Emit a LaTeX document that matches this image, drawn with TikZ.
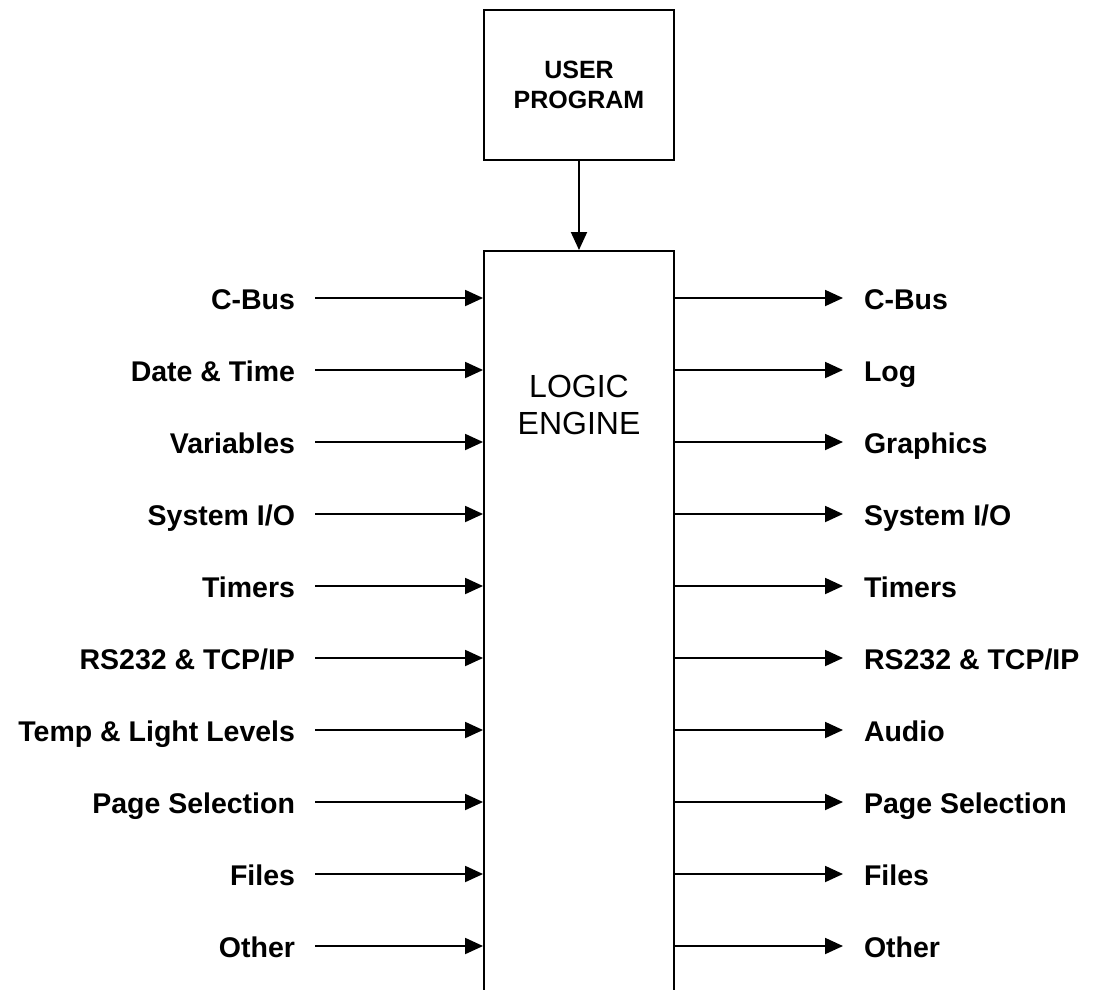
\documentclass[tikz,border=0pt]{standalone}
\usepackage{fontspec}
\setmainfont{Liberation Sans}
\usetikzlibrary{arrows.meta}
\begin{document}
\begin{tikzpicture}[x=1pt,y=-1pt,
  line width=1.9pt,
  flow/.style={-{Triangle[length=18pt,width=16pt]}},
  box/.style={draw,line width=1.9pt,inner sep=0pt},
  inlabel/.style={anchor=east,inner sep=0pt,outer xsep=20pt,
    text height=22pt,text depth=-6pt,
    font=\bfseries\fontsize{28.5}{32}\selectfont},
  outlabel/.style={anchor=west,inner sep=0pt,outer xsep=21pt,
    text height=22pt,text depth=-6pt,
    font=\bfseries\fontsize{28.5}{32}\selectfont}]
\useasboundingbox (0,0) rectangle (1093,989);
\clip (0,0) rectangle (1093,989);

% program block
\node[box,minimum width=190pt,minimum height=150pt,align=center,
  font=\bfseries\fontsize{25}{30}\selectfont] (user) at (579,85) {USER\\PROGRAM};

% logic engine (runs past the lower edge)
\node[box,minimum width=190pt,minimum height=780pt,anchor=north] (engine) at (579,250) {};
\node[align=center,inner sep=0pt,font=\fontsize{32}{37}\selectfont] (enginetxt) at (579,405) {LOGIC\\ENGINE};

\draw[flow] (user.south) -- (engine.north);

% inputs
\foreach \i/\t in {0/{C-Bus},1/{Date \& Time},2/{Variables},3/{System I/O},4/{Timers},
    5/{RS232 \& TCP/IP},6/{Temp \& Light Levels},7/{Page Selection},8/{Files},9/{Other}}{
  \node[inlabel] (in\i) at (315,298+72*\i) {\t};
  \draw[flow] (in\i.east) -- (in\i.east -| engine.west);
}

% outputs
\foreach \i/\t in {0/{C-Bus},1/{Log},2/{Graphics},3/{System I/O},4/{Timers},
    5/{RS232 \& TCP/IP},6/{Audio},7/{Page Selection},8/{Files},9/{Other}}{
  \node[outlabel] (out\i) at (843,298+72*\i) {\t};
  \draw[flow] (out\i.west -| engine.east) -- (out\i.west);
}
\end{tikzpicture}
\end{document}
